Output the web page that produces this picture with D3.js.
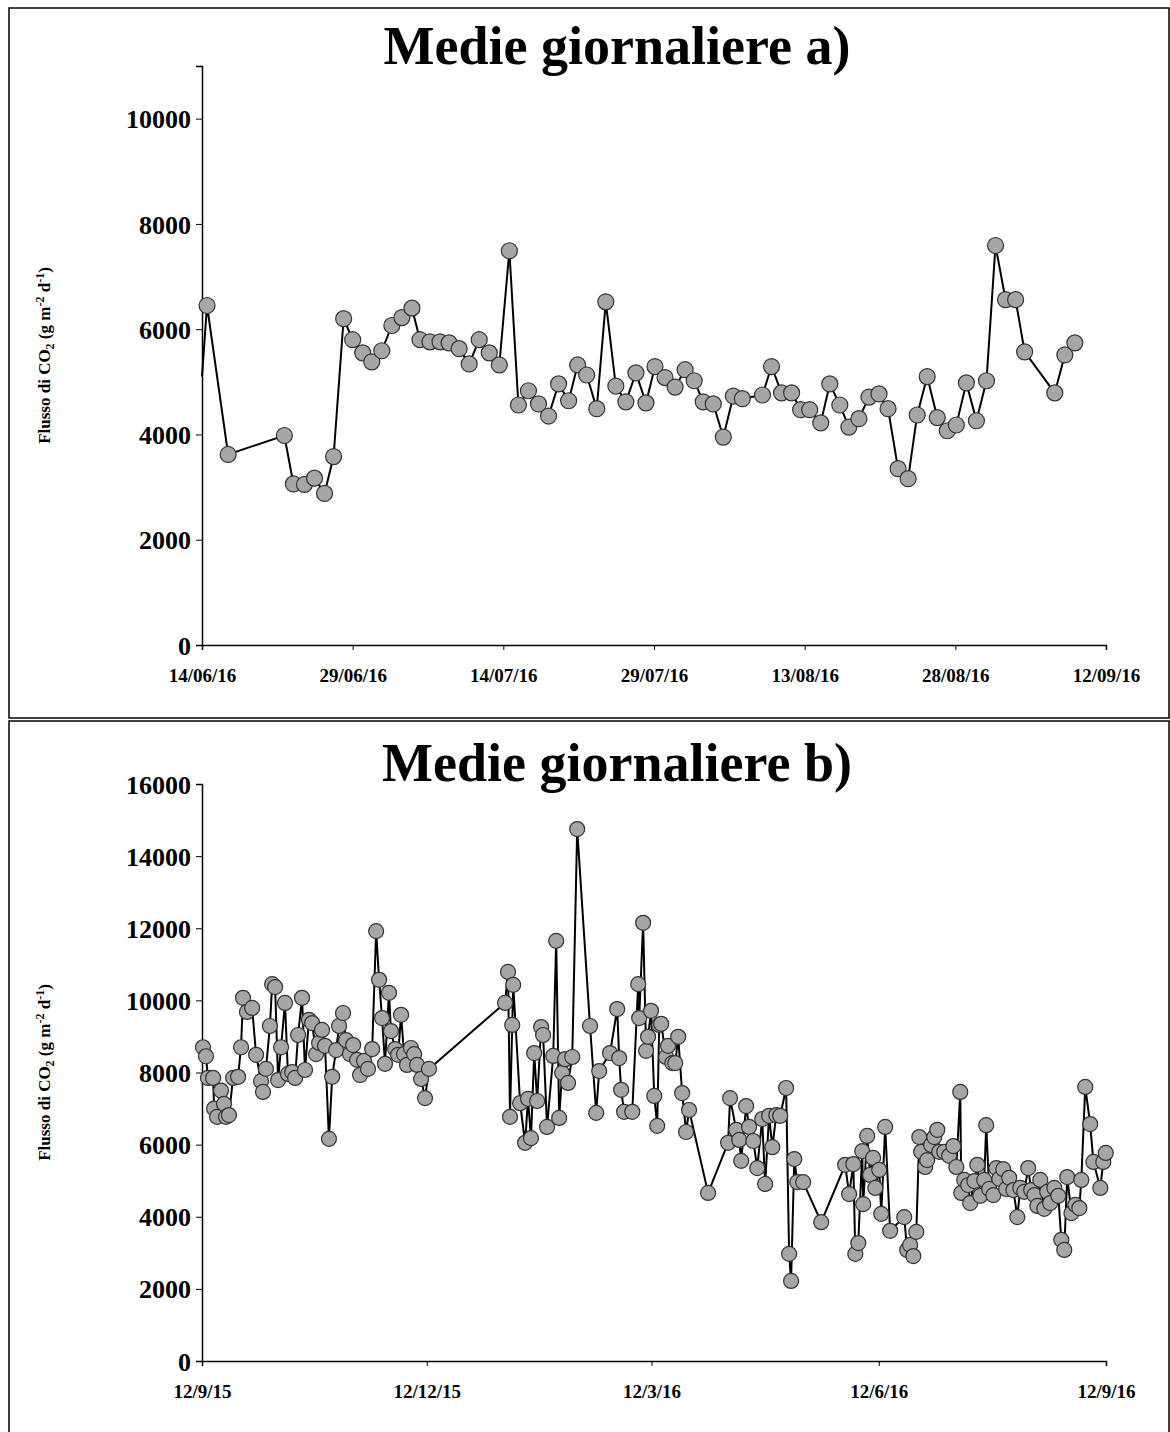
<!DOCTYPE html>
<html><head><meta charset="utf-8">
<script src="https://cdn.jsdelivr.net/npm/d3@7"></script>
<style>body{margin:0;background:#fff}svg text{font-family:"Liberation Serif","Times New Roman",serif;font-weight:bold}</style>
</head><body>
<script>
// panel a: days since 14/06/2016, daily mean CO2 flux
var daysA = [0,0.5,2.6,8.2,9.1,10.2,11.2,12.2,13.1,14.1,15.0,16.0,16.9,17.9,18.9,19.9,20.9,21.7,22.7,23.7,24.6,25.6,26.6,27.6,28.6,29.6,30.6,31.5,32.5,33.5,34.5,35.5,36.5,37.4,38.3,39.3,40.2,41.2,42.2,43.2,44.2,45.1,46.1,47.1,48.1,49.0,49.9,50.9,51.9,52.9,53.8,55.8,56.7,57.7,58.7,59.6,60.5,61.6,62.5,63.5,64.4,65.4,66.4,67.4,68.3,69.3,70.3,71.2,72.2,73.2,74.2,75.1,76.1,77.1,78.1,79.0,80.0,81.0,81.9,84.9,85.9,86.9];
var fluxA = [5100,6450,3620,3980,3060,3050,3170,2880,3580,6200,5800,5550,5380,5590,6070,6220,6400,5800,5760,5760,5740,5630,5340,5800,5550,5320,7490,4560,4830,4580,4350,4960,4640,5320,5130,4490,6520,4920,4620,5170,4600,5290,5080,4900,5230,5020,4620,4580,3950,4730,4680,4750,5290,4790,4790,4470,4470,4220,4960,4560,4140,4300,4710,4770,4490,3350,3160,4370,5100,4320,4070,4180,4980,4260,5020,7590,6560,6560,5570,4790,5510,5740];
// panel b: days since 12/09/2015
var daysB = [0.4,1.6,2.4,4.5,4.9,6.1,7.7,8.9,9.7,10.9,12.6,14.6,15.8,16.6,18.2,20.3,21.9,23.9,24.7,25.9,27.5,28.4,29.6,30.8,32.0,33.6,34.8,36.5,37.7,38.9,40.5,41.7,43.3,44.6,46.2,47.4,48.6,49.8,51.4,52.7,54.3,55.5,57.1,58.3,59.9,61.2,62.8,64.0,65.6,67.2,68.9,70.5,71.7,72.9,74.1,75.7,76.5,78.2,79.4,80.6,81.8,83.0,84.6,85.9,87.1,88.7,90.3,91.9,122.7,123.9,124.7,125.6,126.0,128.8,130.8,132.0,133.2,134.5,135.7,137.3,138.1,139.7,142.2,143.4,144.6,145.8,147.0,148.2,149.9,151.9,157.1,159.6,160.8,165.2,168.1,168.9,169.7,170.9,174.2,176.6,177.0,178.6,179.8,180.6,181.8,183.1,184.3,185.1,185.9,187.9,188.7,190.4,191.6,192.8,194.4,196.0,197.2,204.9,213.0,213.8,216.3,217.5,218.3,220.3,221.5,223.2,224.8,226.8,228.0,229.6,230.9,232.5,234.1,236.5,237.7,238.5,239.8,241.0,243.4,250.7,260.4,262.0,263.7,264.5,265.7,267.3,267.7,269.3,270.5,271.7,272.6,274.2,275.0,276.6,278.6,284.3,285.5,286.7,288.0,289.2,290.4,291.2,292.8,293.6,295.2,296.5,297.7,298.5,300.5,302.5,304.2,305.4,307.0,307.4,308.6,310.2,311.0,312.7,313.9,315.1,316.7,317.5,318.7,320.4,321.6,322.8,324.4,325.6,326.8,328.5,330.1,331.3,332.9,334.5,335.7,337.0,338.2,339.4,341.0,342.2,343.4,345.1,346.7,347.9,349.1,350.3,352.0,353.6,355.2,356.0,357.6,359.6,360.9,363.7,364.9,365.9];
var fluxB = [8700,8450,7850,7850,7000,6770,7500,7130,6770,6820,7850,7880,8700,10070,9680,9790,8490,7760,7460,8100,9290,10450,10370,7790,8700,9930,7960,8010,7850,9040,10070,8070,9460,9370,8510,8820,9180,8740,6160,7880,8620,9290,9650,8900,8510,8760,8350,7930,8320,8100,8650,11920,10570,9510,8240,10210,9150,8650,8490,9600,8510,8210,8680,8510,8210,7820,7290,8100,9930,10790,6770,9320,10430,7150,6050,7270,6180,8540,7210,9260,9040,6490,8460,11650,6740,7990,8370,7710,8430,14750,9290,6880,8040,8540,9760,8400,7520,6910,6910,10450,9510,12150,8600,8990,9710,7350,6520,9320,9350,8430,8740,8260,8260,8990,7430,6350,6960,4660,6050,7290,6410,6130,5550,7070,6490,6100,5350,6710,4910,6800,5930,6820,6800,7570,2970,2220,5600,4960,4960,3850,5440,4630,5460,2970,3270,5820,4350,6240,5160,5630,4800,5300,4080,6490,3610,3990,3080,3220,2910,3580,6210,5800,5380,5570,5990,6210,6410,5800,5800,5690,5960,5380,7460,4660,5020,4880,4380,4990,5440,4580,5020,6540,4770,4600,5350,5050,5320,4770,5080,4740,3990,4800,4690,5350,4740,4600,4300,5020,4220,4690,4380,4800,4580,3360,3080,5100,4100,4330,4240,5020,7600,6570,5520,4800,5520,5770];
var ticksA = ["2016-06-14","2016-06-29","2016-07-14","2016-07-29","2016-08-13","2016-08-28","2016-09-12"];
var ticksB = ["2015-09-12","2015-12-12","2016-03-12","2016-06-12","2016-09-12"];

var svg = d3.select("body").append("svg").attr("width",1170).attr("height",1432);
svg.append("rect").attr("x",9).attr("y",8).attr("width",1160).attr("height",710).attr("fill","none").attr("stroke","#000").attr("stroke-width",1.5);
svg.append("rect").attr("x",9).attr("y",721).attr("width",1160).attr("height",720).attr("fill","none").attr("stroke","#000").attr("stroke-width",1.5);

function panel(o){
  var g = svg.append("g");
  var x = d3.scaleUtc().domain([new Date(o.start), new Date(o.end)]).range([202,1106]);
  var y = d3.scaleLinear().domain([0,o.ymax]).range([o.bottom,o.top]);
  var t0 = new Date(o.start).getTime();
  var pts = o.days.map(function(d,i){return {date:new Date(t0+d*864e5), v:o.flux[i]};});
  g.append("text").attr("x",617).attr("y",o.titleY).attr("text-anchor","middle").attr("font-size",54).text(o.title);
  var ya = g.append("g").attr("transform","translate(202,0)")
    .call(d3.axisLeft(y).tickValues(d3.range(0,o.ymax+1,2000)).tickSize(6).tickFormat(d3.format("d")));
  ya.select(".domain").attr("stroke-width",1.5);
  ya.selectAll("text").attr("font-size",26).attr("font-family","Liberation Serif").attr("font-weight","bold").attr("fill","#000").attr("dx",-2).attr("dy","0.35em");
  var xa = g.append("g").attr("transform","translate(0,"+o.bottom+")")
    .call(d3.axisBottom(x).tickValues(o.ticks.map(function(s){return new Date(s);})).tickSize(5).tickFormat(d3.utcFormat(o.fmt)));
  xa.select(".domain").attr("stroke-width",1.5);
  xa.selectAll("text").attr("font-size",19).attr("font-family","Liberation Serif").attr("font-weight","bold").attr("fill","#000").attr("dy","1.5em");
  var lab = g.append("text").attr("transform","translate(50,"+((o.top+o.bottom)/2)+") rotate(-90)")
    .attr("text-anchor","middle").attr("font-size",17);
  lab.append("tspan").text("Flusso di CO");
  lab.append("tspan").attr("font-size",12).attr("dy",4).text("2");
  lab.append("tspan").attr("dy",-4).text(" (g m");
  lab.append("tspan").attr("font-size",12).attr("dy",-6).text("-2");
  lab.append("tspan").attr("dy",6).text(" d");
  lab.append("tspan").attr("font-size",12).attr("dy",-6).text("-1");
  lab.append("tspan").attr("dy",6).text(")");
  g.append("path").datum(pts).attr("fill","none").attr("stroke","#000").attr("stroke-width",2)
    .attr("d",d3.line().x(function(d){return x(d.date);}).y(function(d){return y(d.v);}));
  g.selectAll("circle").data(pts.slice(o.skip)).enter().append("circle")
    .attr("cx",function(d){return x(d.date);}).attr("cy",function(d){return y(d.v);})
    .attr("r",o.r).attr("fill","#a6a6a6").attr("stroke","#333").attr("stroke-width",1.2);
}

panel({title:"Medie giornaliere a)",titleY:64,start:"2016-06-14",end:"2016-09-12",ymax:11000,top:66,bottom:645,
  days:daysA,flux:fluxA,ticks:ticksA,fmt:"%d/%m/%y",r:8,skip:1});
panel({title:"Medie giornaliere b)",titleY:781,start:"2015-09-12",end:"2016-09-12",ymax:16000,top:784,bottom:1361,
  days:daysB,flux:fluxB,ticks:ticksB,fmt:"%-d/%-m/%y",r:7.5,skip:0});
</script>
</body></html>
